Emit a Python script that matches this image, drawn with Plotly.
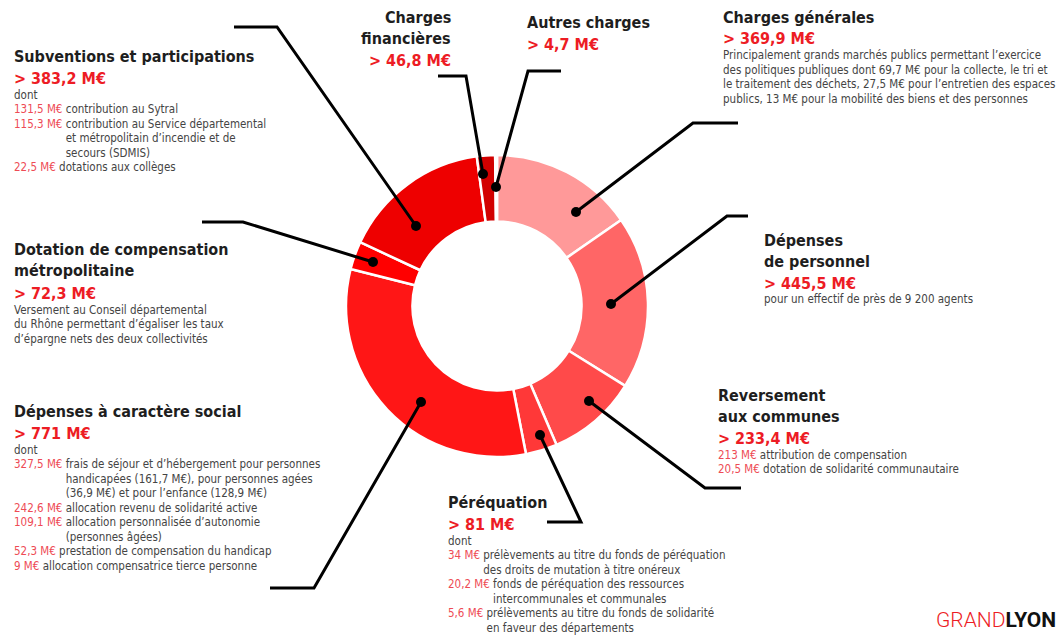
import plotly.graph_objects as go

W, H = 1062, 635

# slices, clockwise from 12 o'clock
categories = ["Charges générales", "Dépenses de personnel", "Reversement aux communes",
              "Péréquation", "Dépenses à caractère social",
              "Dotation de compensation métropolitaine", "Subventions et participations",
              "Charges financières", "Autres charges"]
values = [369.9, 445.5, 233.4, 81, 771, 72.3, 383.2, 46.8, 4.7]
colors = ["#FF9999", "#FF6666", "#FF4A4A", "#FF3838", "#FF1616",
          "#FF0000", "#EE0000", "#D20000", "#B00000"]

titles = [["Charges générales"], ["Dépenses", "de personnel"], ["Reversement", "aux communes"],
          ["Péréquation"], ["Dépenses à caractère social"],
          ["Dotation de compensation", "métropolitaine"], ["Subventions et participations"],
          ["Charges", "financières"], ["Autres charges"]]

details = [
    [(None, ["Principalement grands marchés publics permettant l’exercice",
             "des politiques publiques dont 69,7 M€ pour la collecte, le tri et",
             "le traitement des déchets, 27,5 M€ pour l’entretien des espaces",
             "publics, 13 M€ pour la mobilité des biens et des personnes"])],
    [(None, ["pour un effectif de près de 9 200 agents"])],
    [("213 M€", ["attribution de compensation"]),
     ("20,5 M€", ["dotation de solidarité communautaire"])],
    [(None, ["dont"]),
     ("34 M€", ["prélèvements au titre du fonds de péréquation",
                "des droits de mutation à titre onéreux"]),
     ("20,2 M€", ["fonds de péréquation des ressources",
                  "intercommunales et communales"]),
     ("5,6 M€", ["prélèvements au titre du fonds de solidarité",
                 "en faveur des départements"])],
    [(None, ["dont"]),
     ("327,5 M€", ["frais de séjour et d’hébergement pour personnes",
                   "handicapées (161,7 M€), pour personnes agées",
                   "(36,9 M€) et pour l’enfance (128,9 M€)"]),
     ("242,6 M€", ["allocation revenu de solidarité active"]),
     ("109,1 M€", ["allocation personnalisée d’autonomie", "(personnes âgées)"]),
     ("52,3 M€", ["prestation de compensation du handicap"]),
     ("9 M€", ["allocation compensatrice tierce personne"])],
    [(None, ["Versement au Conseil départemental",
             "du Rhône permettant d’égaliser les taux",
             "d’épargne nets des deux collectivités"])],
    [(None, ["dont"]),
     ("131,5 M€", ["contribution au Sytral"]),
     ("115,3 M€", ["contribution au Service départemental",
                   "et métropolitain d’incendie et de", "secours (SDMIS)"]),
     ("22,5 M€", ["dotations aux collèges"])],
    [],
    [],
]

# layout of the label blocks (pixels): x, centre of first title line, alignment
blocks = [(721, 17, "left"), (762, 240, "left"), (716, 395, "left"), (446, 502, "left"),
          (12, 411, "left"), (12, 250, "left"), (12, 56, "left"), (453, 18, "right"),
          (525, 23, "left")]

# leader lines (pixels), from label side to the dot in the ring
leaders = [
    [(738, 123), (693, 123), (576, 212)],
    [(748, 216), (727, 216), (611, 304)],
    [(741, 488), (705, 488), (589, 401)],
    [(547, 522), (581, 522), (540, 435)],
    [(270, 588), (314, 588), (421, 402)],
    [(202, 222), (243, 222), (373, 262)],
    [(234, 27), (277, 27), (416, 226)],
    [(438, 76), (466, 76), (483, 174)],
    [(561, 71), (528, 71), (496, 187)],
]

FONT = "DejaVu Sans Condensed, DejaVu Sans, sans-serif"
DARK = "#1E1E1E"
GREY = "#444444"
RED = "#ED1C24"
LIGHT_RED = "#EE4B55"


def fx(x):
    return x / W


def fy(y):
    return 1 - y / H


fig = go.Figure()

fig.add_trace(go.Pie(
    labels=categories,
    values=values,
    sort=False,
    direction="clockwise",
    rotation=0,
    hole=0.56,
    marker=dict(colors=colors, line=dict(color="white", width=2.5)),
    textinfo="none",
    hoverinfo="label+value",
    showlegend=False,
    domain=dict(x=[fx(346), fx(648)], y=[fy(457), fy(155)]),
))

annotations = []


def add_text(x, y, text, size, color, align, bold=False):
    if bold:
        text = "<b>" + text + "</b>"
    annotations.append(dict(
        x=fx(x), y=fy(y), xref="paper", yref="paper", text=text,
        showarrow=False, xanchor=align, yanchor="middle", align=align,
        font=dict(family=FONT, size=size, color=color),
    ))


for i in range(len(categories)):
    x, y, align = blocks[i]
    for t in titles[i]:
        add_text(x, y, t, 16, DARK, align, bold=True)
        y += 21
    y += 1
    add_text(x, y, "> " + f"{values[i]:g}".replace(".", ",") + " M€", 16, RED, align, bold=True)
    y += 16.5
    for amount, lines in details[i]:
        for k, line in enumerate(lines):
            if amount is None:
                txt = line
            elif k == 0:
                txt = f"<span style='color:{LIGHT_RED}'>{amount}</span> {line}"
            else:
                txt = f"<span style='color:rgba(0,0,0,0)'>{amount}</span> {line}"
            add_text(x, y, txt, 11.5, GREY, align)
            y += 14.5

# logo
annotations.append(dict(
    x=fx(1058), y=fy(620), xref="paper", yref="paper",
    text=f"<span style='color:{RED}'>GRAND</span><b>LYON</b>",
    showarrow=False, xanchor="right", yanchor="middle",
    font=dict(family="Roboto, sans-serif", size=21, color="#111111", weight=300),
))

shapes = []
for pts in leaders:
    path = "M " + " L ".join(f"{fx(px)},{fy(py)}" for px, py in pts)
    shapes.append(dict(type="path", path=path, xref="paper", yref="paper",
                       line=dict(color="black", width=3), layer="above"))
    dx, dy = pts[-1]
    shapes.append(dict(type="circle", xref="paper", yref="paper",
                       x0=fx(dx - 5), x1=fx(dx + 5), y0=fy(dy + 5), y1=fy(dy - 5),
                       fillcolor="black", line=dict(color="black", width=0), layer="above"))

fig.update_layout(
    width=W, height=H,
    margin=dict(l=0, r=0, t=0, b=0),
    paper_bgcolor="white",
    plot_bgcolor="white",
    annotations=annotations,
    shapes=shapes,
)

fig.write_html("out.html", config={"displayModeBar": False},
               post_script="document.body.style.margin='0px';")
